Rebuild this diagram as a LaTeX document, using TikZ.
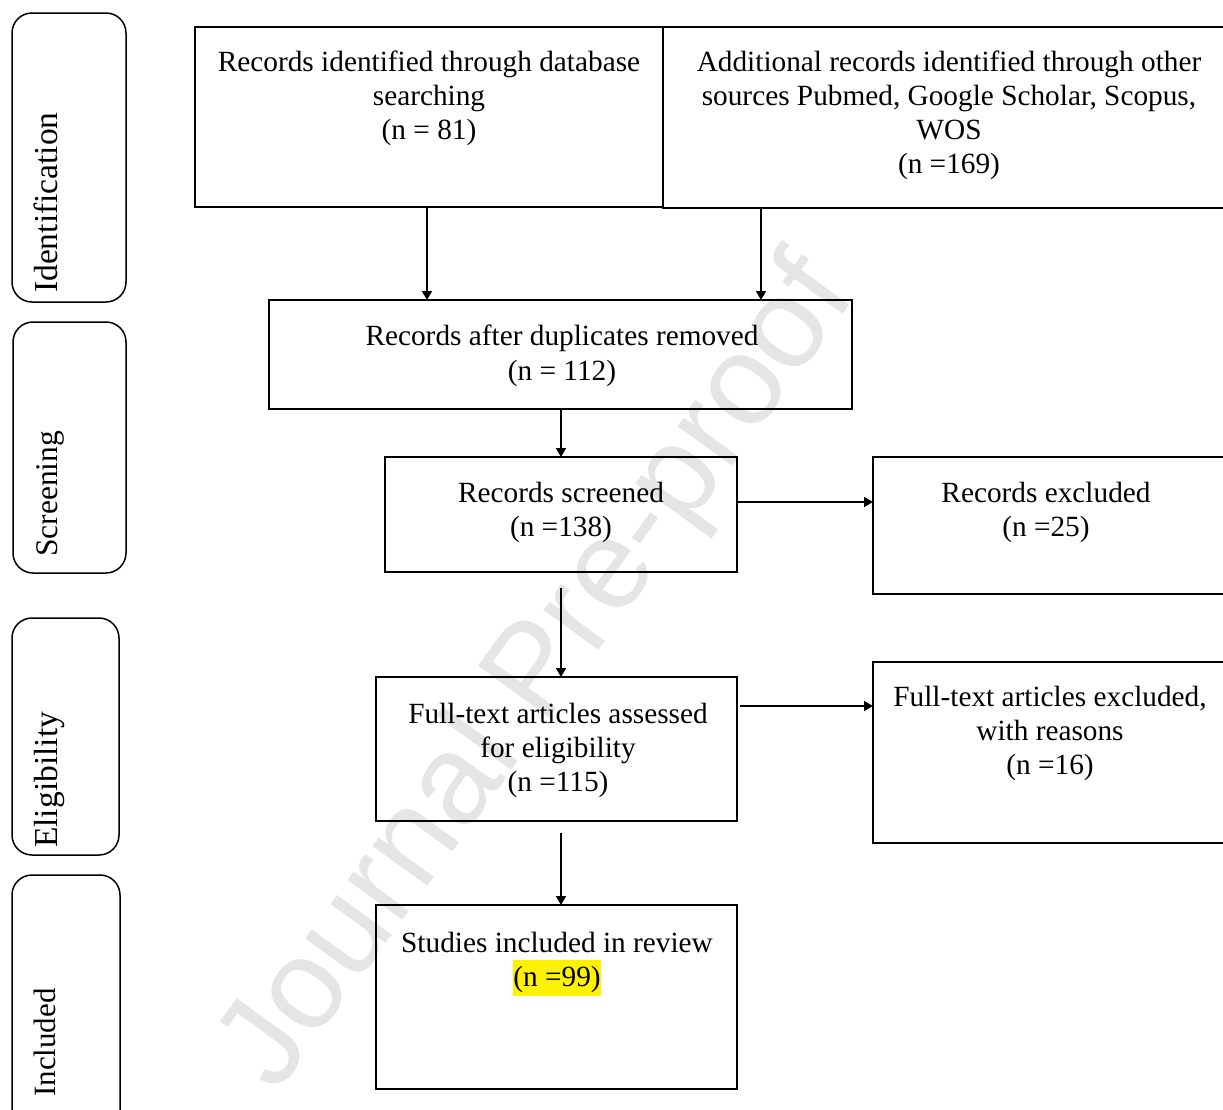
\documentclass[tikz,border=0pt]{standalone}
\usepackage{fontspec}
\setmainfont{Liberation Serif}
\newfontfamily\wmfont{Liberation Sans}
\usetikzlibrary{arrows.meta,calc,fit}
\begin{document}
\begin{tikzpicture}[x=1pt,y=-1pt,
  box/.style={draw, line width=1.7pt, inner sep=0pt, outer sep=0pt},
  phase/.style={draw, line width=1.5pt, rounded corners=20pt, inner sep=0pt, outer sep=0pt},
  txt/.style={inner sep=0pt, align=center, font=\fontsize{29.3}{34.3}\selectfont},
  phtxt/.style={inner sep=0pt, rotate=90, anchor=base west},
  arr/.style={line width=1.7pt, -{Triangle[length=9pt,width=10pt]}},
  wm/.style={rotate=54, text=black!10, inner sep=0pt, font=\wmfont\fontsize{128}{128}\selectfont}
]
\useasboundingbox (0,0) rectangle (1223,1109);

% watermark
\node[wm] (wm) at (540,675) {Journal Pre-proof};

% phase labels
\node[phase, fit={(12,13) (126,302)}] (pid) {};
\node[phase, fit={(13,322) (126,573)}] (psc) {};
\node[phase, fit={(12,618) (119,855)}] (pel) {};
\node[phase, fit={(12,875) (120,1135)}] (pin) {};
\node[phtxt, font=\fontsize{33.5}{36}\selectfont] (tid) at (57,293) {Identification};
\node[phtxt, font=\fontsize{31.5}{36}\selectfont] (tsc) at (57,557) {Screening};
\node[phtxt, font=\fontsize{33.5}{36}\selectfont] (tel) at (57,848) {Eligibility};
\node[phtxt, font=\fontsize{31}{36}\selectfont] (tin) at (55,1097) {Included};

% boxes
\node[box, fit={(195,27) (663,207)}] (b1) {};
\node[box, fit={(663,27) (1236,208)}] (b2) {};
\node[box, fit={(269,300) (852,409)}] (b3) {};
\node[box, fit={(385,457) (737,572)}] (b4) {};
\node[box, fit={(873,457) (1236,594)}] (b4r) {};
\node[box, fit={(376,677) (737,821)}] (b5) {};
\node[box, fit={(873,662) (1236,843)}] (b5r) {};
\node[box, fit={(376,905) (737,1089)}] (b6) {};

% texts (anchor base = baseline of the last line)
\node[txt, anchor=base] (t1) at (429,139.6) {Records identified through database\\searching\\(n = 81)};
\node[txt, anchor=base] (t2) at (949,173.9) {Additional records identified through other\\sources Pubmed, Google Scholar, Scopus,\\WOS\\(n =169)};
\node[txt, anchor=base] (t3) at (562,380) {Records after duplicates removed\\(n = 112)};
\node[txt, anchor=base] (t4) at (561,536.3) {Records screened\\(n =138)};
\node[txt, anchor=base] (t4r) at (1046,536.3) {Records excluded\\(n =25)};
\node[txt, anchor=base] (t5) at (558,791.6) {Full-text articles assessed\\for eligibility\\(n =115)};
\node[txt, anchor=base] (t5r) at (1050,774.6) {Full-text articles excluded,\\with reasons\\(n =16)};
\node[txt, anchor=base] (t6) at (557,986.5) {Studies included in review\\{\setlength\fboxsep{0pt}\colorbox{yellow}{\rule[-9pt]{0pt}{36pt}(n =99)}}};

% connectors
\coordinate (xa) at (427,0);
\coordinate (xb) at (761,0);
\coordinate (xc) at (561,0);
\coordinate (ya) at (0,502);
\coordinate (yb) at (0,706);
\draw[arr] (xa |- b1.south) -- (xa |- b3.north);
\draw[arr] (xb |- b2.south) -- (xb |- b3.north);
\draw[arr] (xc |- b3.south) -- (xc |- b4.north);
\draw[arr] (ya -| b4.east) -- (ya -| b4r.west);
\draw[arr] ($(xc |- b4.south)+(0,16)$) -- (xc |- b5.north);
\draw[arr] ($(yb -| b5.east)+(3,0)$) -- (yb -| b5r.west);
\draw[arr] ($(xc |- b5.south)+(0,12)$) -- (xc |- b6.north);
\end{tikzpicture}
\end{document}
